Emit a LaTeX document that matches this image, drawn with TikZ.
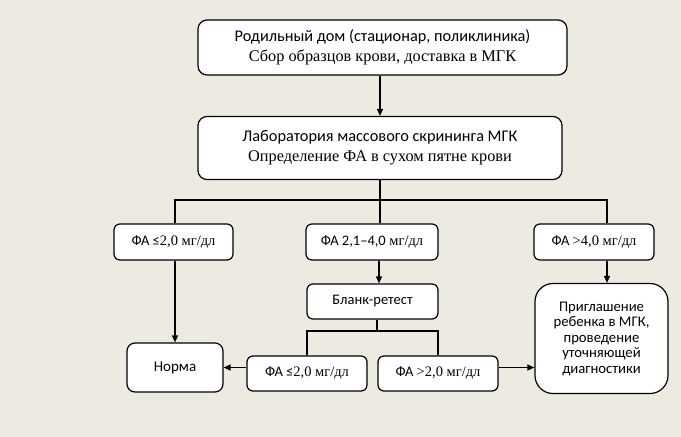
\documentclass[tikz,border=0pt]{standalone}
\usepackage{fontspec}
\setmainfont{Liberation Serif}
\setsansfont{Carlito}
\usepackage{xcolor}
\usetikzlibrary{arrows.meta}
\definecolor{paper}{RGB}{237,234,225}

\begin{document}
\begin{tikzpicture}[x=1pt,y=-1pt,
	box/.style={draw, fill=white, line width=1.2pt, rounded corners=6pt, align=center, inner sep=0pt, font=\fontsize{14.5}{19}\selectfont},
	conn/.style={line width=1.2pt},
	arr/.style={line width=1.2pt, -{Triangle[length=7pt,width=6pt]}}]
	\fill[paper] (0,0) rectangle (681,437);
	\useasboundingbox (0,0) rectangle (681,437);

	\node[box, rounded corners=9pt, font=\fontsize{16.3}{20}\selectfont, minimum width=369pt, minimum height=55pt] (roddom) at (382.5,47.5) {{\sffamily Родильный дом (стационар, поликлиника)}\\Сбор образцов крови, доставка в МГК};
	\node[box, rounded corners=9pt, font=\fontsize{16.3}{20}\selectfont, minimum width=364pt, minimum height=63pt] (lab) at (380,148) {{\sffamily Лаборатория массового скрининга МГК}\\Определение ФА в сухом пятне крови};

	\node[box, minimum width=119pt, minimum height=36pt] (lowA) at (173.5,242) {{\sffamily ФА ≤}2,0 мг/дл};
	\node[box, minimum width=132pt, minimum height=36pt] (midA) at (372,242) {{\sffamily ФА 2,1–4,0} мг/дл};
	\node[box, minimum width=120pt, minimum height=36pt] (highA) at (594,242) {{\sffamily ФА }>4,0 мг/дл};

	\node[box, font=\fontsize{14.5}{19}\selectfont\sffamily, minimum width=131pt, minimum height=35pt] (blank) at (372.5,301.5) {Бланк-ретест};
	\node[box, rounded corners=8pt, font=\fontsize{15}{19}\selectfont\sffamily, minimum width=96pt, minimum height=49pt] (norma) at (175,367.5) {Норма};
	\node[box, minimum width=120pt, minimum height=35pt] (lowB) at (307,373.5) {{\sffamily ФА ≤}2,0 мг/дл};
	\node[box, minimum width=120pt, minimum height=35pt] (highB) at (438,373.5) {{\sffamily ФА }>2,0 мг/дл};
	\node[box, rounded corners=18pt, font=\fontsize{14.7}{15.5}\selectfont\sffamily, minimum width=133pt, minimum height=110pt] (invite) at (601.5,338.5) {Приглашение\\ребенка в МГК,\\проведение\\уточняющей\\диагностики};

	\coordinate (fork) at (380,200);
	\coordinate (retest) at (377,331);

	\draw[arr] (roddom.south -| lab.north) -- (lab.north);
	\draw[conn] (lab.south) -- (fork);
	\draw[conn] (lowA.north -| 175,0) |- (fork) -| ([xshift=13pt]highA.north);
	\draw[conn] (fork) -- (midA.north -| fork);

	\draw[arr] (lowA.south -| 175,0) -- (norma.north);
	\draw[arr] (midA.south -| 379,0) -- (blank.north -| 379,0);
	\draw[arr] ([xshift=13pt]highA.south) -- (invite.north -| 607,0);

	\draw[conn] (blank.south -| retest) -- (retest);
	\draw[conn] (lowB.north) |- (retest) -| (highB.north);

	\draw[arr] (lowB.west |- norma.east) -- (norma.east);
	\draw[arr] (highB.east |- norma.east) -- (invite.west |- norma.east);
\end{tikzpicture}
\end{document}
